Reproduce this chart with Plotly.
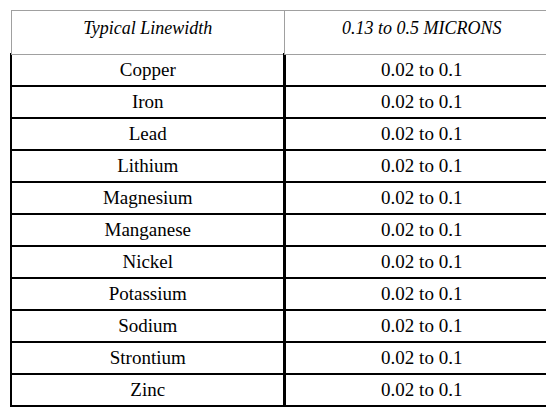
import plotly.graph_objects as go

header = ["<i>Typical Linewidth</i>", "<i>0.13 to 0.5 MICRONS</i>"]
elements = ["Copper", "Iron", "Lead", "Lithium", "Magnesium", "Manganese",
            "Nickel", "Potassium", "Sodium", "Strontium", "Zinc"]
ranges = ["0.02 to 0.1"] * len(elements)

serif = "Times New Roman, Liberation Serif, serif"

fig = go.Figure(go.Table(
    columnwidth=[274, 275],
    header=dict(values=header, height=44, align="center",
                line=dict(color="#a0a0a0", width=1), fill_color="white",
                font=dict(family=serif, size=18, color="black")),
    cells=dict(values=[elements, ranges], height=32, align="center",
               line=dict(color="black", width=2.5), fill_color="white",
               font=dict(family=serif, size=19, color="black")),
))
fig.update_layout(width=554, height=409, margin=dict(l=3, r=3, t=2, b=2),
                  paper_bgcolor="white")
fig.write_html("out.html")
